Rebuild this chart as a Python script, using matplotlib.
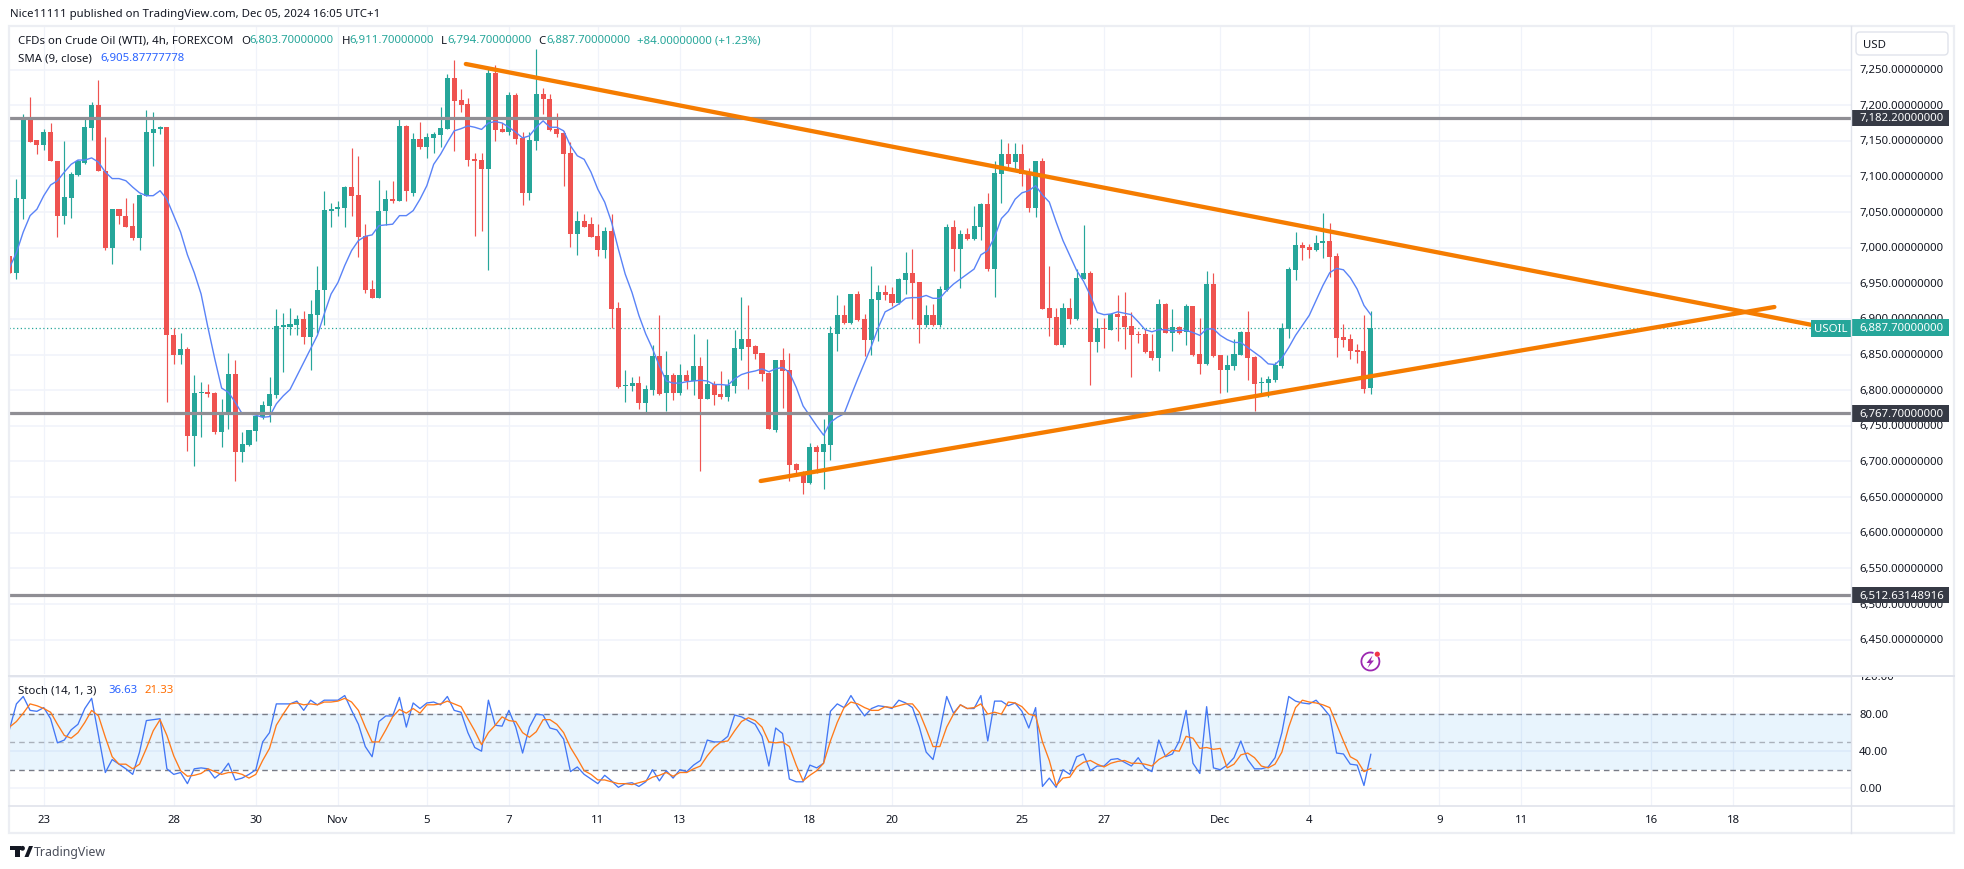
import matplotlib
matplotlib.use("Agg")
import matplotlib.pyplot as plt
from matplotlib.patches import Rectangle, FancyBboxPatch, Polygon, Circle, Arc

plt.rcParams['font.family'] = ['Noto Sans', 'DejaVu Sans']

opens = [6989,6964,7068,7183,7151,7144,7162,7122,7045,7070,
 7102,7119,7168,7200,7108,7000,7054,7044,7030,7014,
 7073,7161,7167,7169,6877,6850,6858,6736,6796,6797,
 6796,6742,6769,6823,6713,6723,6743,6762,6778,6794,
 6889,6889,6892,6900,6875,6906,6940,7051,7055,7056,
 7085,7074,7016,6942,6930,7051,7068,7066,7171,7077,
 7153,7141,7154,7158,7167,7238,7207,7202,7124,7123,
 7110,7245,7167,7163,7214,7154,7077,7150,7216,7209,
 7167,7161,7133,7019,7037,7033,7016,6997,7023,6915,
 6806,6806,6810,6782,6801,6848,6796,6821,6796,6821,
 6813,6834,6788,6809,6795,6790,6806,6858,6872,6862,
 6852,6824,6744,6842,6828,6696,6685,6670,6720,6713,
 6723,6879,6905,6894,6935,6900,6870,6927,6938,6935,
 6922,6955,6964,6952,6891,6905,6891,6941,7029,6998,
 7019,7012,7029,7061,6970,7103,7132,7120,7132,7105,
 7056,7122,6915,6903,6863,6915,6900,6956,6964,6868,
 6887,6884,6907,6904,6890,6879,6879,6855,6845,6921,
 6880,6889,6882,6918,6851,6837,6949,6849,6828,6834,
 6849,6882,6847,6810,6810,6814,6834,6886,6969,7004,
 7001,6997,7006,7009,6988,6875,6872,6856,6855,6803.7]
highs = [6989,7096,7188,7212,7151,7167,7175,7122,7150,7106,
 7123,7181,7204,7236,7155,7055,7054,7070,7063,7075,
 7193,7191,7171,7169,6888,6880,6860,6821,6811,6809,
 6797,6788,6852,6842,6741,6744,6764,6785,6819,6914,
 6909,6916,6905,6911,6926,6975,7079,7063,7066,7087,
 7140,7128,7033,6954,7095,7081,7094,7180,7172,7161,
 7176,7161,7163,7198,7244,7263,7222,7210,7133,7133,
 7253,7256,7175,7219,7217,7163,7162,7279,7224,7216,
 7189,7164,7148,7051,7047,7043,7033,7029,7047,6924,
 6828,6818,6820,6807,6864,6906,6855,6824,6837,6828,
 6879,6846,6872,6813,6827,6816,6884,6931,6920,6864,
 6852,6825,6842,6859,6852,6698,6687,6726,6723,6760,
 6890,6934,6920,6935,6939,6907,6974,6948,6948,6945,
 6957,6994,6998,6952,6920,6921,6946,7033,7039,7025,
 7028,7058,7063,7077,7121,7153,7147,7147,7146,7112,
 7122,7126,6974,6915,6922,6929,6970,7032,6967,6901,
 6901,6907,6934,6938,6910,6883,6886,6879,6928,6922,
 6914,6890,6921,6918,6901,6967,6964,6849,6849,6872,
 6883,6911,6848,6818,6820,6840,6894,6973,7022,7008,
 7005,7018,7049,7035,6993,6893,6879,6865,6906,6911.7]
lows = [6965,6956,7040,7148,7131,7137,7121,7015,7033,7042,
 7101,7117,7151,7107,6997,6977,7033,7029,7011,6997,
 7072,7114,7160,6784,6837,6837,6715,6694,6735,6791,
 6739,6720,6746,6673,6699,6722,6729,6760,6756,6789,
 6826,6877,6877,6865,6829,6881,6892,7029,7045,7029,
 7045,6987,6936,6930,6930,7032,7063,7065,7065,7073,
 7138,7126,7133,7142,7166,7136,7190,7115,7017,7023,
 6969,7150,7163,7158,7145,7060,7067,7137,7188,7164,
 7156,7087,7001,6990,7029,7015,6989,6985,6888,6803,
 6784,6799,6774,6769,6793,6793,6771,6786,6794,6802,
 6793,6687,6788,6779,6788,6785,6796,6842,6802,6844,
 6813,6745,6742,6775,6673,6684,6654,6668,6684,6661,
 6702,6855,6893,6893,6897,6848,6849,6869,6927,6918,
 6921,6935,6900,6866,6889,6890,6889,6939,6967,6943,
 7011,7011,7011,6967,6931,7063,7113,7109,7087,7050,
 7043,6914,6876,6863,6861,6893,6898,6956,6807,6854,
 6859,6884,6869,6858,6819,6866,6852,6842,6827,6880,
 6855,6879,6863,6848,6823,6835,6847,6796,6797,6828,
 6849,6814,6771,6793,6790,6811,6831,6873,6955,6983,
 6986,6995,6986,6959,6847,6861,6844,6838,6796,6794.7]
closes = [6965,7070,7182,7149,7144,7162,7121,7045,7071,7103,
 7121,7169,7200,7107,7000,7054,7044,7029,7014,7074,
 7162,7167,7169,6877,6850,6858,6736,6796,6797,6795,
 6741,6770,6823,6713,6724,6744,6764,6779,6795,6890,
 6891,6893,6900,6875,6907,6941,7053,7055,7057,7085,
 7073,7015,6941,6930,7051,7068,7066,7171,7079,7153,
 7141,7155,7160,7168,7238,7206,7200,7123,7122,7110,
 7245,7165,7163,7214,7153,7077,7151,7216,7208,7165,
 7160,7131,7019,7037,7029,7015,6997,7023,6914,6805,
 6808,6810,6782,6802,6848,6795,6821,6796,6821,6813,
 6834,6788,6809,6793,6790,6807,6859,6872,6861,6851,
 6823,6745,6842,6827,6695,6688,6670,6720,6713,6724,
 6880,6905,6894,6935,6898,6870,6928,6938,6934,6922,
 6956,6964,6950,6891,6905,6891,6942,7029,6998,7019,
 7012,7030,7061,6970,7105,7132,7117,7132,7103,7056,
 7122,6914,6901,6863,6915,6900,6957,6964,6868,6887,
 6886,6907,6903,6889,6877,6877,6854,6845,6921,6880,
 6889,6880,6918,6849,6837,6949,6848,6828,6835,6851,
 6882,6845,6809,6811,6816,6835,6887,6970,7004,7000,
 6997,7007,7009,6987,6873,6870,6855,6854,6802,6887.7]
sma9 = [6972,6993,7022,7045,7054,7073,7088,7094,7106,7117,
 7123,7123,7126,7120,7106,7097,7097,7094,7085,7077,
 7073,7073,7080,7068,7045,7022,6990,6965,6935,6888,
 6844,6803,6797,6783,6767,6767,6765,6762,6763,6781,
 6792,6801,6820,6839,6858,6877,6907,6935,6951,6975,
 6996,7010,7016,7018,7031,7032,7033,7045,7045,7052,
 7068,7087,7117,7131,7148,7164,7167,7171,7169,7166,
 7175,7177,7175,7169,7162,7154,7157,7169,7178,7169,
 7169,7164,7143,7129,7124,7106,7082,7064,7036,6998,
 6963,6937,6905,6879,6858,6834,6813,6810,6810,6812,
 6813,6814,6813,6808,6808,6807,6816,6822,6825,6827,
 6830,6826,6830,6832,6825,6804,6778,6764,6750,6737,
 6755,6762,6767,6792,6816,6839,6862,6888,6910,6915,
 6921,6929,6930,6930,6933,6929,6929,6940,6949,6956,
 6963,6970,6990,6996,7015,7041,7051,7068,7077,7080,
 7087,7074,7064,7036,7010,6989,6968,6953,6933,6909,
 6906,6907,6910,6908,6906,6896,6885,6882,6885,6885,
 6883,6884,6884,6881,6877,6886,6886,6877,6871,6867,
 6867,6860,6853,6846,6837,6836,6845,6860,6877,6891,
 6905,6926,6947,6965,6971,6969,6958,6942,6919,6905.88]
stoch_k = [64,91,99,84,83,87,75,49,52,63,
 69,86,97,57,17,31,26,21,15,39,
 73,74,75,21,15,17,5,21,22,21,
 11,17,27,9,11,15,20,50,60,91,
 91,91,94,84,95,90,95,95,95,100,
 84,69,45,34,72,78,78,98,66,92,
 86,92,93,90,99,84,82,60,44,40,
 95,68,67,84,66,38,66,80,79,65,
 63,53,18,23,15,10,5,14,8,1,
 5,6,2,7,20,8,19,11,20,18,
 25,30,52,50,50,56,79,77,73,69,
 56,24,65,59,10,7,7,25,22,27,
 83,91,87,100,88,78,86,89,88,86,
 95,92,87,66,39,31,62,99,81,90,
 86,86,100,51,94,94,89,92,83,65,
 87,2,11,1,20,15,34,37,19,24,
 24,31,32,28,24,33,22,18,52,34,
 37,51,84,27,16,88,22,20,25,33,
 51,31,21,21,23,33,60,99,94,92,
 91,95,87,78,38,37,26,25,3,36.63]
stoch_d = [66,72,81,91,89,86,82,69,57,54,
 60,71,84,78,55,34,26,26,21,26,
 43,62,74,57,35,19,13,14,16,21,
 18,15,17,17,15,11,15,30,43,68,
 80,91,92,90,91,90,93,93,94,97,
 93,84,66,50,50,63,77,85,81,86,
 81,90,90,91,94,91,88,75,62,47,
 60,68,77,73,72,60,55,61,74,74,
 69,60,44,32,19,15,9,9,7,5,
 5,4,6,8,12,14,17,13,17,17,
 21,24,35,44,50,51,62,72,76,73,
 66,50,49,50,45,25,8,14,19,27,
 51,71,87,93,91,87,84,84,88,87,
 89,91,91,82,64,45,45,66,80,90,
 86,87,91,80,82,80,93,92,88,80,
 78,50,30,3,11,12,23,28,30,26,
 23,27,29,30,27,27,26,24,31,35,
 41,40,56,54,43,44,42,43,22,26,
 36,38,33,24,22,26,39,66,87,95,
 93,92,90,87,69,51,34,30,18,21.33]

support_levels = [7182.2, 6767.7, 6512.63148916]
level_labels = ['7,182.20000000', '6,767.70000000', '6,512.63148916']
last_price = 6887.7
price_ticks = [6450,6500,6550,6600,6650,6700,6750,6800,6850,6900,6950,7000,7050,7100,7150,7200,7250]
stoch_ticks = [0, 40, 80, 120]
trend_down_x, trend_down_y = [66.7, 269.2], [7257.8, 6881.0]
trend_up_x, trend_up_y = [109.8, 258.0], [6672.6, 6916.8]
time_pos = [5,24,36,48,61,73,86,98,117,129,148,160,177,190,209,221,240,252]
time_labels = ['23','28','30','Nov','5','7','11','13','18','20','25','27','Dec','4','9','11','16','18']

UP, DOWN = '#26a69a', '#ef5350'
GRID, BORDER = '#f0f3fa', '#e0e3eb'
TXT = '#131722'
W, H = 1964, 870
FS = 8.2

fig = plt.figure(figsize=(W/100, H/100), dpi=100, facecolor='white')
def axes_px(x0, y0, x1, y1, **kw):
    return fig.add_axes([x0/W, 1-y1/H, (x1-x0)/W, (y1-y0)/H], **kw)

XLIM = (-0.083, 269.2)
ax = axes_px(9, 27, 1851, 675)
ax.set_xlim(*XLIM); ax.set_ylim(6401.8, 7311.1)
sx = axes_px(9, 678, 1851, 807)
sx.set_xlim(*XLIM); sx.set_ylim(-19.1, 120)
for a in (ax, sx):
    a.set_xticks([]); a.set_yticks([])
    for s in a.spines.values():
        s.set_visible(False)
    a.vlines(time_pos, *a.get_ylim(), color=GRID, lw=0.9, zorder=0)
ax.hlines(price_ticks, *XLIM, color=GRID, lw=1.1, zorder=0)
sx.hlines(stoch_ticks, *XLIM, color=GRID, lw=1.1, zorder=0)

# candles
bars = range(len(closes))
cols = [UP if c >= o else DOWN for o, c in zip(opens, closes)]
ax.vlines(list(bars), lows, highs, colors=cols, lw=0.85, zorder=3)
ax.bar(list(bars), [abs(c-o) for o, c in zip(opens, closes)],
       bottom=[min(o, c) for o, c in zip(opens, closes)], width=0.74, color=cols, lw=0, zorder=3)
ax.plot(list(bars), sma9, color='#5a83f7', lw=1.0, zorder=4)
ax.axhline(last_price, color=UP, lw=0.9, ls=(0, (1, 2)), zorder=2)
for lv in support_levels:
    ax.axhline(lv, color='#8f8e94', lw=2.3, zorder=5)
ax.plot(trend_down_x, trend_down_y, color='#f57c00', lw=3.1, solid_capstyle='round', zorder=6)
ax.plot(trend_up_x, trend_up_y, color='#f57c00', lw=3.1, solid_capstyle='round', zorder=6)

# stochastic
sx.axhspan(20, 80, color='#2196f3', alpha=0.1, lw=0, zorder=1)
sx.axhline(80, color='#787b86', lw=1, ls=(0, (4, 3)), zorder=2)
sx.axhline(50, color='#787b86', lw=1, ls=(0, (4, 3)), alpha=0.55, zorder=2)
sx.axhline(20, color='#787b86', lw=1, ls=(0, (4, 3)), zorder=2)
sx.plot(list(bars), stoch_k, color='#4377f5', lw=0.95, zorder=3)
sx.plot(list(bars), stoch_d, color='#ff7a1a', lw=0.95, zorder=4)

# price scales (same ranges as the panes)
pa = axes_px(1851, 27, 1954, 675)
pa.set_xlim(0, 103); pa.set_ylim(*ax.get_ylim()); pa.axis('off')
for t in price_ticks:
    pa.text(8, t, f'{t:,.8f}', fontsize=FS, color=TXT, va='center', ha='left', clip_on=True, zorder=1)
for lv, lab in zip(support_levels, level_labels):
    pa.add_patch(Rectangle((0, lv-11.6), 98, 23.2, color='#363a45', lw=0, zorder=3))
    pa.text(8, lv, lab, fontsize=FS, color='white', va='center', ha='left', zorder=4)
pa.add_patch(Rectangle((0, last_price-11.6), 98, 23.2, color=UP, lw=0, zorder=3))
pa.text(8, last_price, f'{last_price:,.8f}', fontsize=FS, color='white', va='center', ha='left', zorder=4)

sa = axes_px(1851, 678, 1954, 807)
sa.set_xlim(0, 103); sa.set_ylim(*sx.get_ylim()); sa.axis('off')
for t in stoch_ticks:
    sa.text(8, t, f'{t:.2f}', fontsize=FS, color=TXT, va='center', ha='left', clip_on=True)

# overlay in figure pixels: frame, headers, badges
ov = fig.add_axes([0, 0, 1, 1], zorder=10)
ov.set_xlim(0, W); ov.set_ylim(H, 0); ov.axis('off'); ov.patch.set_alpha(0)
ov.add_patch(Rectangle((9, 27), 1945, 807, fill=False, ec='#eceef3', lw=1.6))
ov.plot([1851, 1851], [27, 834], color=BORDER, lw=1)
ov.plot([9, 1954], [676.5, 676.5], color=BORDER, lw=1.4)
ov.plot([9, 1954], [807, 807], color=BORDER, lw=1.2)
ov.add_patch(Rectangle((1811, 321), 40, 16.5, color=UP, lw=0))
ov.text(1831, 329.5, 'USOIL', fontsize=FS, color='white', ha='center', va='center')
ov.add_patch(FancyBboxPatch((1856, 33), 92, 23, boxstyle='round,pad=0,rounding_size=4', fc='white', ec=BORDER, lw=1))
ov.text(1863, 45, 'USD', fontsize=FS, color=TXT, va='center')

def T(x, y, s, color=TXT, **kw):
    ov.text(x, y, s, fontsize=kw.pop('fs', FS), color=color, va='center', ha=kw.pop('ha', 'left'), **kw)

T(10, 15, 'Nice11111 published on TradingView.com, Dec 05, 2024 16:05 UTC+1')
T(18, 41, 'CFDs on Crude Oil (WTI), 4h, FOREXCOM')
for x, s in [(241.6, 'O'), (341.7, 'H'), (440.6, 'L'), (538.7, 'C')]:
    T(x, 41, s)
for x, s in [(249.6, '6,803.70000000'), (349, '6,911.70000000'), (447.5, '6,794.70000000'),
             (546, '6,887.70000000'), (637, '+84.00000000 (+1.23%)')]:
    T(x, 41, s, color=UP)
T(18, 59, 'SMA (9, close)')
T(100.6, 59, '6,905.87777778', color='#2962ff')
T(18, 691, 'Stoch (14, 1, 3)')
T(108.6, 691, '36.63', color='#2962ff')
T(145, 691, '21.33', color='#ff6d00')

# time axis
for p, s in zip(time_pos, time_labels):
    xp = 9 + (p - XLIM[0]) / (XLIM[1] - XLIM[0]) * 1842
    T(xp, 820.5, s, ha='center', fontweight='semibold' if s in ('Nov', 'Dec') else 'normal')

# watermark logo + wordmark
ov.add_patch(Rectangle((10, 847), 11, 4, color=TXT, lw=0))
ov.add_patch(Rectangle((15, 847), 5, 11, color=TXT, lw=0))
ov.add_patch(Circle((22.5, 849.3), 2.4, color=TXT, lw=0))
ov.add_patch(Polygon([[24.5, 858], [29, 847], [33, 847], [28.5, 858]], color=TXT, lw=0))
T(34, 853, 'TradingView', color='#4a4e5a', fs=8.9)

# lightning badge
ov.add_patch(Arc((1370.4, 662.5), 18, 18, theta1=-30, theta2=290, color='#9c27b0', lw=1.3))
ov.add_patch(Polygon([[1372.5, 656.5], [1366.5, 664], [1369.8, 664], [1367.5, 669], [1374, 661.5], [1370.7, 661.5]],
                     color='#9c27b0', lw=0))
ov.add_patch(Circle((1377.3, 655.2), 2.6, color='#f23645', lw=0))

fig.savefig('out.png', dpi=100, facecolor='white')
